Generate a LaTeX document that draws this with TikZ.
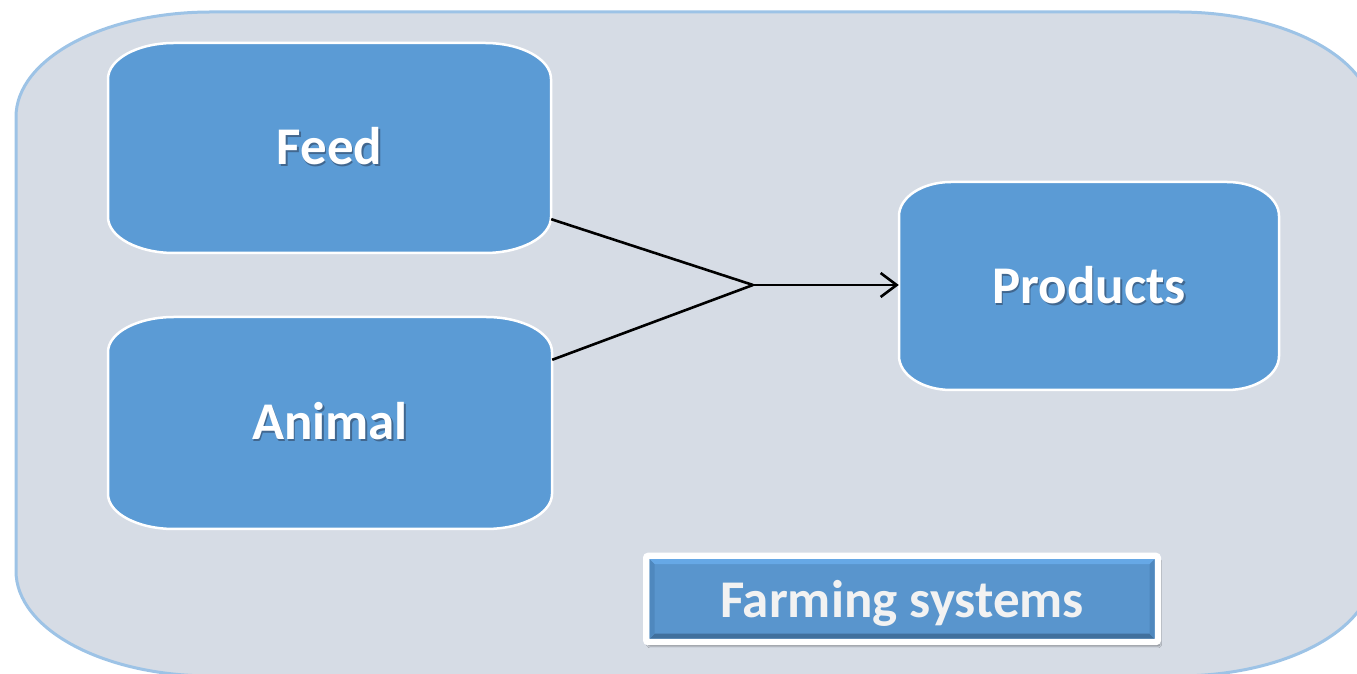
\documentclass[tikz,border=0pt]{standalone}
\usepackage{fontspec}
\setmainfont{Carlito}
\usetikzlibrary{arrows.meta,shadows.blur}
\definecolor{outerfill}{HTML}{D6DCE5}
\definecolor{outerline}{HTML}{9DC3E6}
\definecolor{boxblue}{HTML}{5B9BD5}
\definecolor{fsblue}{HTML}{5995CD}
\definecolor{bevtop}{HTML}{66A8E6}
\definecolor{bevbot}{HTML}{41709D}
\definecolor{bevside}{HTML}{4F88BE}
\definecolor{txtshadow}{HTML}{41678F}
\definecolor{fstext}{HTML}{F2F2F2}
\newcommand\shadowtext[1]{\makebox[0pt][l]{\hspace{1.5pt}\raisebox{-1.5pt}{\textcolor{txtshadow}{#1}}}#1}
\newcommand\eboxpath[6]{%
 \path[boxshape] ({#1-#3/2+#5},{#2+#4/2}) -- ({#1+#3/2-#5},{#2+#4/2})
   arc[start angle=90,end angle=0,x radius=#5,y radius=#6] -- ({#1+#3/2},{#2-#4/2+#6})
   arc[start angle=0,end angle=-90,x radius=#5,y radius=#6] -- ({#1-#3/2+#5},{#2-#4/2})
   arc[start angle=270,end angle=180,x radius=#5,y radius=#6] -- ({#1-#3/2},{#2+#4/2-#6})
   arc[start angle=180,end angle=90,x radius=#5,y radius=#6] -- cycle;}
\tikzset{
  outer/.style={fill=outerfill, draw=outerline, line width=3pt},
  boxshape/.style={fill=boxblue, draw=white, line width=2.5pt},
  boxlabel/.style={inner sep=0pt, text=white, text depth=0pt,
    font=\bfseries\fontsize{53}{60}\selectfont},
  conn/.style={line width=2.6pt, black},
  fsbox/.style={fill=fsblue, draw=white, line width=6.5pt, rounded corners=2pt,
    minimum width=511.5pt, minimum height=86pt, inner sep=0pt, text=fstext, text depth=0pt,
    font=\bfseries\fontsize{53}{60}\selectfont,
    blur shadow={shadow xshift=2pt, shadow yshift=-4pt, shadow blur steps=6, shadow opacity=45}},
}
\begin{document}
\begin{tikzpicture}[x=1pt,y=1pt]
\useasboundingbox (0,0) rectangle (1357,674);
% outer container
\path[outer] (211,662) -- (1178,662)
  arc[start angle=90,end angle=0,x radius=195,y radius=105] -- (1373,103)
  arc[start angle=0,end angle=-90,x radius=195,y radius=105] -- (211,-2)
  arc[start angle=270,end angle=180,x radius=195,y radius=105] -- (16,557)
  arc[start angle=180,end angle=90,x radius=195,y radius=105] -- cycle;
% boxes
\eboxpath{329.5}{526}{443}{210}{66}{36}
\eboxpath{330}{251}{444}{212}{66}{35}
\eboxpath{1089}{388}{380}{208}{52}{34}
\node[boxlabel, minimum width=443pt, minimum height=210pt] (feed) at (329.5,528) {\shadowtext{Feed}};
\node[boxlabel, minimum width=444pt, minimum height=212pt] (animal) at (330,253) {\shadowtext{Animal}};
\node[boxlabel, minimum width=380pt, minimum height=208pt] (products) at (1089,389) {\shadowtext{Products}};
% connectors
\coordinate (m) at (753,389);
\draw[conn] ([yshift=32pt]feed.south east) -- (m);
\draw[conn] ([yshift=-45pt]animal.north east) -- (m);
\draw[conn,-{Straight Barb[length=16pt,width=24pt,line width=2.6pt]}] (m) -- (products.west);
% farming systems
\node[fsbox] (fs) at (902,75) {Farming systems};
\fill[bevtop] (649.5,114.75) -- (1154.5,114.75) -- (1149.5,109.75) -- (654.5,109.75) -- cycle;
\fill[bevbot] (649.5,35.25) -- (1154.5,35.25) -- (1149.5,40.25) -- (654.5,40.25) -- cycle;
\fill[bevside] (649.5,35.25) -- (649.5,114.75) -- (654.5,109.75) -- (654.5,40.25) -- cycle;
\fill[bevside] (1154.5,35.25) -- (1154.5,114.75) -- (1149.5,109.75) -- (1149.5,40.25) -- cycle;
\end{tikzpicture}
\end{document}
